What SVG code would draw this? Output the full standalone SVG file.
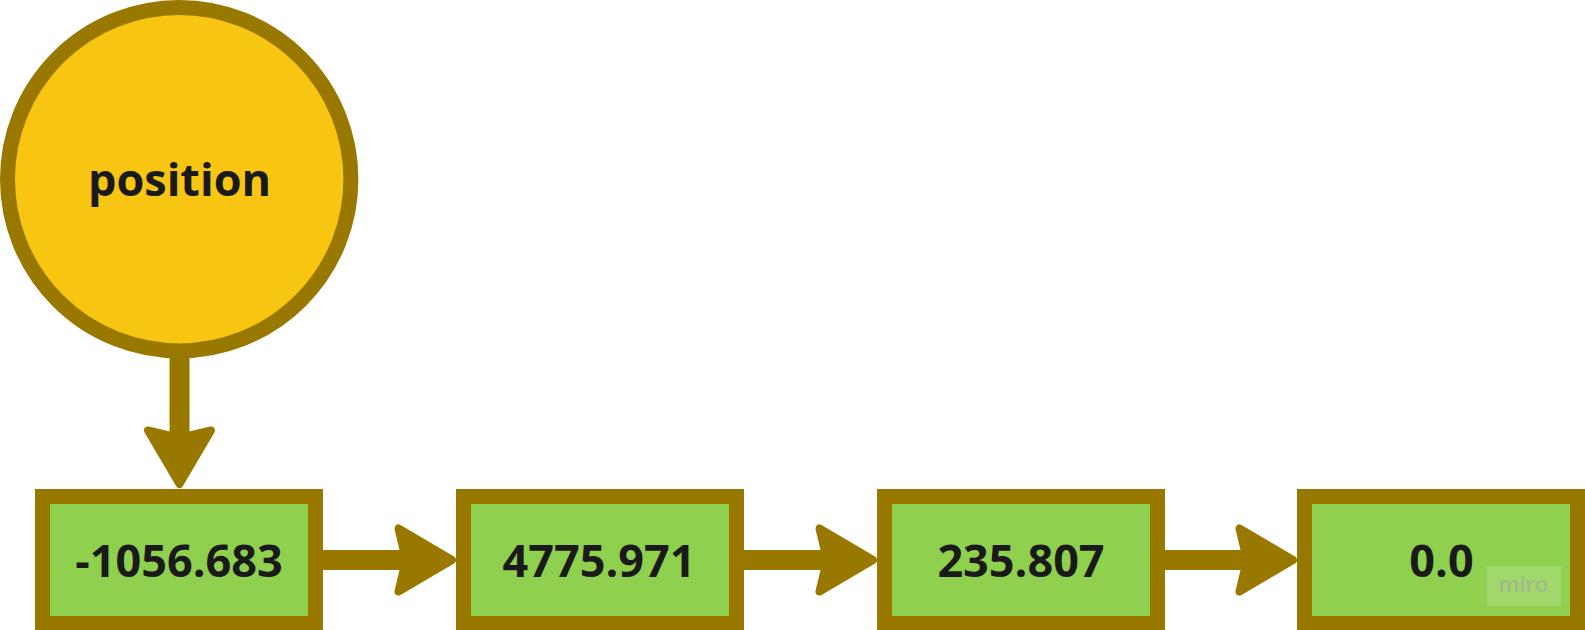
<svg xmlns="http://www.w3.org/2000/svg" width="1585" height="630" viewBox="0 0 1585 630">
  <style>
    .node-circle { fill: #f8c612; stroke: #997800; stroke-width: 15; }
    .node-box { fill: #8fd14f; stroke: #997800; stroke-width: 15; }
    .label { font-family: "Open Sans", "Noto Sans", "Liberation Sans", sans-serif; font-weight: 700; font-size: 45px; fill: #1a1a1a; text-anchor: middle; }
    .shaft { stroke: #997800; stroke-width: 20; fill: none; }
    .head { fill: #997800; stroke: #997800; stroke-width: 8; stroke-linejoin: round; }
    .wm-bg { fill: #ffffff; fill-opacity: 0.17; }
    .wm-text { font-family: "Open Sans", "Noto Sans", sans-serif; font-weight: 600; font-size: 22px; fill: #a4b88e; text-anchor: middle; }
  </style>
  <rect width="1585" height="630" fill="#ffffff"/>

  <g id="connectors">
    <g id="edge-position-box1">
      <line class="shaft" x1="179.5" y1="355" x2="179.5" y2="440"/>
      <polygon class="head" points="179.5,484 148,430.5 179.5,438 211,430.5"/>
    </g>
    <g id="edge-box1-box2">
      <line class="shaft" x1="323" y1="560" x2="408" y2="560"/>
      <polygon class="head" points="452,560 398.5,528.5 406,560 398.5,591.5"/>
    </g>
    <g id="edge-box2-box3">
      <line class="shaft" x1="744" y1="560" x2="829" y2="560"/>
      <polygon class="head" points="873,560 819.5,528.5 827,560 819.5,591.5"/>
    </g>
    <g id="edge-box3-box4">
      <line class="shaft" x1="1165" y1="560" x2="1250" y2="560"/>
      <polygon class="head" points="1293,560 1239.5,528.5 1247,560 1239.5,591.5"/>
    </g>
  </g>

  <g id="node-position">
    <circle class="node-circle" cx="179.2" cy="179.2" r="171.7"/>
    <text class="label" x="179.5" y="196">position</text>
  </g>

  <g id="node-box1">
    <rect class="node-box" x="42.5" y="496.5" width="273" height="127"/>
    <text class="label" x="179" y="577">-1056.683</text>
  </g>

  <g id="node-box2">
    <rect class="node-box" x="463.5" y="496.5" width="273" height="127"/>
    <text class="label" x="599" y="577">4775.971</text>
  </g>

  <g id="node-box3">
    <rect class="node-box" x="884.5" y="496.5" width="273" height="127"/>
    <text class="label" x="1021" y="577">235.807</text>
  </g>

  <g id="node-box4">
    <rect class="node-box" x="1304.5" y="496.5" width="273" height="127"/>
    <text class="label" x="1441.5" y="577">0.0</text>
  </g>

  <g id="watermark">
    <rect class="wm-bg" x="1487" y="566" width="74" height="40"/>
    <text class="wm-text" x="1523.5" y="592">miro</text>
  </g>
</svg>
